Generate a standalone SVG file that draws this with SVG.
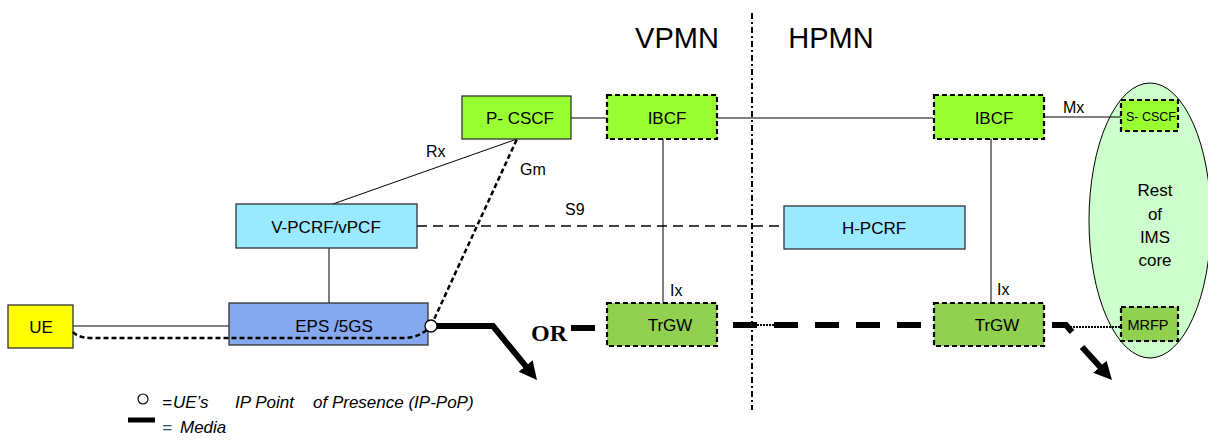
<svg xmlns="http://www.w3.org/2000/svg" width="1208" height="441" viewBox="0 0 1208 441">
<style>
  text { font-family: "Liberation Sans", Arial, sans-serif; fill: #000; }
  .lbl { font-size: 17px; text-anchor: middle; }
  .if { font-size: 16px; }
  .box { stroke: #333; stroke-width: 1.3; }
  .dbox { stroke: #000; stroke-width: 2.2; stroke-dasharray: 5,3; }
  .thin { stroke: #000; stroke-width: 1; fill: none; }
  .media { stroke: #000; stroke-width: 6; fill: none; }
  .sig { stroke: #000; stroke-width: 2.5; fill: none; stroke-dasharray: 5,3; }
  .leg { font-size: 17px; font-style: italic; }
</style>
<defs>
  <marker id="ah" markerUnits="userSpaceOnUse" markerWidth="20" markerHeight="20" refX="6" refY="9" orient="auto">
    <path d="M0,0 L18,9 L0,18 z" fill="#000"/>
  </marker>
</defs>
<rect width="1208" height="441" fill="#fff"/>

<!-- region labels and boundary -->
<text x="677" y="48" font-size="29" text-anchor="middle">VPMN</text>
<text x="831" y="48" font-size="29" text-anchor="middle">HPMN</text>
<line x1="752" y1="13" x2="752" y2="410" stroke="#000" stroke-width="2" stroke-dasharray="6,3,2,3"/>

<!-- ellipse -->
<g id="ims-core">
  <ellipse cx="1150" cy="220.5" rx="61" ry="137.5" fill="#CCFFCC" stroke="#000" stroke-width="1"/>
  <text class="lbl" x="1155" y="196">Rest</text>
  <text class="lbl" x="1155" y="220">of</text>
  <text class="lbl" x="1155" y="243">IMS</text>
  <text class="lbl" x="1155" y="266">core</text>
</g>

<g id="connectors">
  <line class="thin" x1="73" y1="326" x2="229" y2="326"/>
  <line class="thin" x1="329" y1="248" x2="329" y2="303"/>
  <line class="thin" x1="330" y1="205" x2="517" y2="139"/>
  <line class="thin" x1="571" y1="118" x2="607" y2="118"/>
  <line class="thin" x1="717" y1="118" x2="933" y2="118"/>
  <line class="thin" x1="1044" y1="117" x2="1121" y2="117"/>
  <line class="thin" x1="663" y1="139" x2="663" y2="303"/>
  <line class="thin" x1="991" y1="139" x2="991" y2="303"/>
  <line x1="417" y1="226" x2="784" y2="226" stroke="#000" stroke-width="1.6" stroke-dasharray="10,6"/>
  <!-- media -->
  <path class="media" d="M437,326 L493,326 L529.4,370.7" marker-end="url(#ah)"/>
  <line class="media" x1="571" y1="328" x2="595" y2="328"/>
  <line class="media" x1="733" y1="325" x2="757" y2="325"/>
  <line x1="757" y1="325" x2="774" y2="325" stroke="#000" stroke-width="2" stroke-dasharray="2,1"/>
  <line class="media" x1="774" y1="325" x2="798" y2="325"/>
  <line class="media" x1="815" y1="325" x2="839" y2="325"/>
  <line class="media" x1="856" y1="325" x2="880" y2="325"/>
  <line class="media" x1="897" y1="325" x2="921" y2="325"/>
  <path class="media" d="M1052,325 L1066,325 L1072,332"/>
  <line x1="1067" y1="327" x2="1121" y2="327" stroke="#000" stroke-width="2" stroke-dasharray="2,1"/>
  <path class="media" d="M1082,347 L1103.9,371.1" marker-end="url(#ah)"/>
  <!-- interface labels -->
  <text class="if" x="426" y="157">Rx</text>
  <text class="if" x="520" y="175">Gm</text>
  <text class="if" x="565" y="215">S9</text>
  <text class="if" x="1063" y="113">Mx</text>
  <text class="if" x="670" y="296">Ix</text>
  <text class="if" x="997" y="295">Ix</text>
</g>

<g id="ue">
  <rect class="box" x="8" y="305" width="65" height="43" fill="#FFFF00"/>
  <text class="lbl" x="41" y="333" font-size="16.5">UE</text>
</g>
<g id="eps">
  <rect class="box" x="229" y="303" width="199" height="42" fill="#86A8EE"/>
  <text class="lbl" x="334" y="332">EPS /5GS</text>
</g>
<g id="vpcrf">
  <rect class="box" x="236" y="204" width="181" height="44" fill="#99E9FF"/>
  <text class="lbl" x="326" y="233" font-size="17.5">V-PCRF/vPCF</text>
</g>
<g id="hpcrf">
  <rect class="box" x="784" y="206" width="181" height="43" fill="#99E9FF"/>
  <text class="lbl" x="874" y="234">H-PCRF</text>
</g>
<g id="pcscf">
  <rect class="box" x="462" y="96" width="109" height="43" fill="#99FF33"/>
  <text class="lbl" x="520" y="124">P- CSCF</text>
</g>
<g id="ibcf-v">
  <rect class="dbox" x="607" y="95" width="110" height="44" fill="#99FF33"/>
  <text class="lbl" x="667" y="124">IBCF</text>
</g>
<g id="ibcf-h">
  <rect class="dbox" x="934" y="95" width="110" height="44" fill="#99FF33"/>
  <text class="lbl" x="994" y="124">IBCF</text>
</g>
<g id="scscf">
  <rect class="dbox" x="1121" y="100" width="57" height="31" fill="#99FF33"/>
  <text x="1151" y="121" font-size="12.5" text-anchor="middle">S- CSCF</text>
</g>
<g id="trgw-v">
  <rect class="dbox" x="607" y="303" width="110" height="43" fill="#92D050"/>
  <text class="lbl" x="670" y="331">TrGW</text>
</g>
<g id="trgw-h">
  <rect class="dbox" x="934" y="303" width="110" height="43" fill="#92D050"/>
  <text class="lbl" x="997" y="331">TrGW</text>
</g>
<g id="mrfp">
  <rect class="dbox" x="1121" y="307" width="57" height="34" fill="#92D050"/>
  <text x="1148" y="330" font-size="14.5" text-anchor="middle">MRFP</text>
</g>

<g id="signalling">
  <path class="sig" d="M431,326 L517,139"/>
  <path class="sig" d="M73,332 Q78,338 92,338 L405,338 Q421,337 431,326"/>
</g>

<g id="ippop">
  <circle cx="431" cy="326" r="6" fill="#fff" stroke="#000" stroke-width="1.3"/>
</g>

<text x="531" y="341" font-weight="bold" font-size="24" style="font-family:'Liberation Serif', serif">OR</text>

<g id="legend">
  <circle cx="143" cy="399" r="5" fill="#fff" stroke="#000" stroke-width="1.2"/>
  <text class="leg" y="408"><tspan x="162">=</tspan><tspan x="173">UE’s</tspan><tspan x="235">IP Point</tspan><tspan x="313">of Presence (IP-PoP)</tspan></text>
  <line x1="128" y1="420" x2="155" y2="420" stroke="#000" stroke-width="5"/>
  <text class="leg" y="433"><tspan x="162" fill="#1F4E79">=</tspan><tspan x="180">Media</tspan></text>
</g>
</svg>
